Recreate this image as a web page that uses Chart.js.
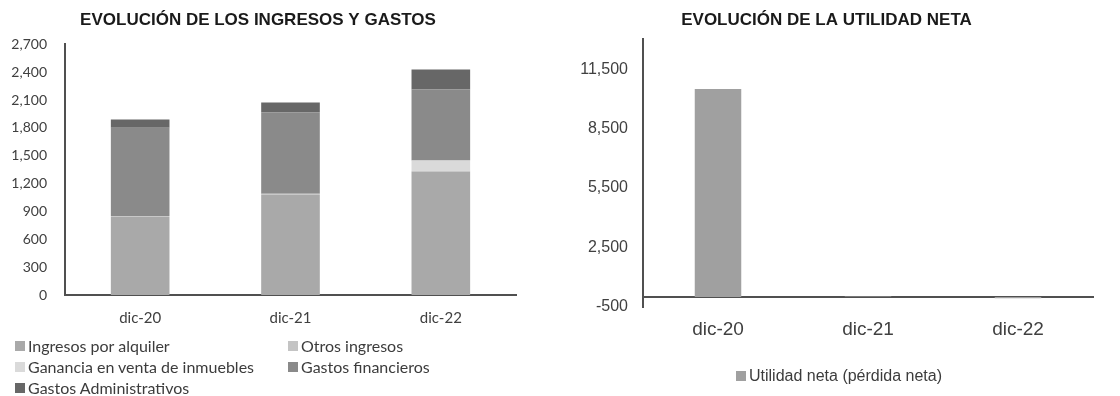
<!DOCTYPE html>
<html>
<head>
<meta charset="utf-8">
<script src="https://cdn.jsdelivr.net/npm/chart.js@4/dist/chart.umd.min.js"></script>
<style>
  body { margin: 0; background: #fff; }
  #wrap { position: relative; width: 1120px; height: 396px; overflow: hidden; }
  .box { position: absolute; top: 0; height: 396px; }
  .legend { position: absolute; font-size: 16px; color: #3c3c3c; white-space: nowrap; }
  .legend .item { position: absolute; display: flex; align-items: center; }
  .legend .sw { display: inline-block; width: 10px; height: 10px; margin-right: 3px; }
</style>
</head>
<body>
<div id="wrap">
  <div class="box" style="left:0;width:520px"><canvas id="ingresos"></canvas></div>
  <div class="box" style="left:560px;width:536px"><canvas id="utilidad"></canvas></div>
  <div id="legendLeft" class="legend" style="font-family:Lato, sans-serif"></div>
  <div id="legendRight" class="legend" style="font-family:'Liberation Sans', Arial, sans-serif"></div>
</div>
<script>
// -- Data --
const periods = ['dic-20', 'dic-21', 'dic-22'];

const ingresosAlquiler = [842, 1080, 1328];
const otrosIngresos = [10, 10, 12];
const gananciaVenta = [0, 0, 108];
const gastosFinancieros = [950, 876, 766];
const gastosAdministrativos = [88, 108, 216];

const utilidadNeta = [10500, 30, -60];
const utilidadTicks = [-500, 2500, 5500, 8500, 11500];

// -- Helpers --
let fmt = v => Number(v).toLocaleString('en-US');

let stackSet = function (label, data, color) {
  return {
    label: label,
    data: data,
    backgroundColor: color,
    borderWidth: 0,
    barPercentage: 0.39,
    categoryPercentage: 1
  };
};

// left: stacked income / expense bars
let leftChart = new Chart(document.getElementById('ingresos'), {
  type: 'bar',
  data: {
    labels: periods,
    datasets: [
      stackSet('Ingresos por alquiler', ingresosAlquiler, '#a9a9a9'),
      stackSet('Otros ingresos', otrosIngresos, '#c4c4c4'),
      stackSet('Ganancia en venta de inmuebles', gananciaVenta, '#dadada'),
      stackSet('Gastos financieros', gastosFinancieros, '#8a8a8a'),
      stackSet('Gastos Administrativos', gastosAdministrativos, '#676767')
    ]
  },
  options: {
    responsive: true,
    maintainAspectRatio: false,
    animation: false,
    layout: { padding: { top: 0, right: 4, bottom: 0, left: 0 } },
    plugins: {
      legend: { display: false },
      tooltip: { enabled: false },
      title: {
        display: true,
        text: 'EVOLUCIÓN DE LOS INGRESOS Y GASTOS',
        color: '#1a1a1a',
        font: { family: "'Liberation Sans', Arial, sans-serif", size: 17, weight: 'bold' },
        padding: { top: 10, bottom: 14 }
      }
    },
    scales: {
      x: {
        stacked: true,
        grid: { display: false, drawTicks: false },
        border: { display: true, color: '#505050', width: 2 },
        ticks: { color: '#404040', padding: 14, font: { family: 'Lato', size: 15 } },
        afterFit: s => { s.height = 101; }
      },
      y: {
        stacked: true,
        min: 0,
        max: 2700,
        grid: { display: false, drawTicks: false },
        border: { display: true, color: '#505050', width: 2 },
        ticks: {
          stepSize: 300,
          color: '#404040',
          padding: 18,
          font: { family: 'Lato', size: 14 },
          callback: v => fmt(v)
        },
        afterFit: s => { s.width = 65; }
      }
    }
  }
});

// right: net income bars
let rightChart = new Chart(document.getElementById('utilidad'), {
  type: 'bar',
  data: {
    labels: periods,
    datasets: [{
      label: 'Utilidad neta (pérdida neta)',
      data: utilidadNeta,
      backgroundColor: '#a0a0a0',
      borderWidth: 0,
      barPercentage: 0.31,
      categoryPercentage: 1
    }]
  },
  options: {
    responsive: true,
    maintainAspectRatio: false,
    animation: false,
    layout: { padding: { top: 0, right: 3, bottom: 89, left: 0 } },
    plugins: {
      legend: { display: false },
      tooltip: { enabled: false },
      title: {
        display: true,
        text: 'EVOLUCIÓN DE LA UTILIDAD NETA',
        color: '#1a1a1a',
        font: { family: "'Liberation Sans', Arial, sans-serif", size: 17, weight: 'bold' },
        padding: { top: 10, bottom: 9 }
      }
    },
    scales: {
      x: {
        position: { y: 0 },
        grid: { display: false, drawTicks: false },
        border: { display: true, color: '#505050', width: 2 },
        ticks: { color: '#404040', padding: 21, font: { family: "'Liberation Sans', Arial, sans-serif", size: 19 } }
      },
      y: {
        min: -500,
        max: 13000,
        grid: { display: false, drawTicks: false },
        border: { display: true, color: '#505050', width: 2 },
        ticks: {
          color: '#404040',
          padding: 15,
          font: { family: "'Liberation Sans', Arial, sans-serif", size: 16 },
          callback: v => fmt(v)
        },
        afterBuildTicks: s => { s.ticks = utilidadTicks.map(v => ({ value: v })); },
        afterFit: s => { s.width = 83; }
      }
    }
  }
});

// html legends built from the chart datasets
let buildLegend = function (chart, el, spots) {
  chart.data.datasets.forEach((ds, i) => {
    let item = document.createElement('div');
    item.className = 'item';
    item.style.left = spots[i][0] + 'px';
    item.style.top = spots[i][1] + 'px';
    let sw = document.createElement('span');
    sw.className = 'sw';
    sw.style.background = ds.backgroundColor;
    item.appendChild(sw);
    item.appendChild(document.createTextNode(ds.label));
    el.appendChild(item);
  });
};

buildLegend(leftChart, document.getElementById('legendLeft'),
  [[15, 336], [288, 336], [15, 357], [288, 357], [15, 378]]);
buildLegend(rightChart, document.getElementById('legendRight'),
  [[736, 367]]);
</script>
</body>
</html>
